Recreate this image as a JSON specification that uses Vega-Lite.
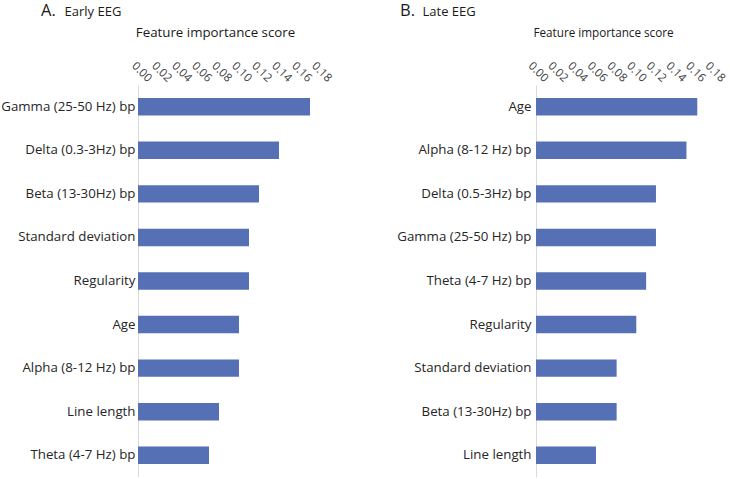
{
  "$schema": "https://vega.github.io/schema/vega-lite/v6.json",
  "padding": {"left": 0, "top": 2, "right": 0, "bottom": 0},
  "autosize": {"type": "pad"},
  "background": "white",
  "config": {
    "view": {"stroke": null},
    "font": "Open Sans",
    "axis": {"labelFont": "Open Sans", "titleFont": "Open Sans"},
    "title": {"font": "Open Sans"}
  },
  "datasets": {
    "early": [
      {"feature": "Gamma (25-50 Hz) bp", "score": 0.172},
      {"feature": "Delta (0.3-3Hz) bp", "score": 0.141},
      {"feature": "Beta (13-30Hz) bp", "score": 0.121},
      {"feature": "Standard deviation", "score": 0.111},
      {"feature": "Regularity", "score": 0.111},
      {"feature": "Age", "score": 0.101},
      {"feature": "Alpha (8-12 Hz) bp", "score": 0.101},
      {"feature": "Line length", "score": 0.081},
      {"feature": "Theta (4-7 Hz) bp", "score": 0.071}
    ],
    "late": [
      {"feature": "Age", "score": 0.164},
      {"feature": "Alpha (8-12 Hz) bp", "score": 0.153},
      {"feature": "Delta (0.5-3Hz) bp", "score": 0.122},
      {"feature": "Gamma (25-50 Hz) bp", "score": 0.122},
      {"feature": "Theta (4-7 Hz) bp", "score": 0.112},
      {"feature": "Regularity", "score": 0.102},
      {"feature": "Standard deviation", "score": 0.082},
      {"feature": "Beta (13-30Hz) bp", "score": 0.082},
      {"feature": "Line length", "score": 0.061}
    ]
  },
  "bounds": "flush",
  "spacing": 218,
  "hconcat": [
    {
      "data": {"name": "early"},
      "width": 180,
      "height": 392,
      "title": {"text": "A.", "anchor": "start", "frame": "group", "dx": -97, "offset": -14, "fontSize": 16.5, "fontWeight": "normal", "color": "#1a1a1a"},
      "mark": {"type": "bar", "color": "#5670B6"},
      "encoding": {
        "y": {
          "field": "feature", "type": "nominal", "sort": null,
          "scale": {"paddingInner": 0.6, "paddingOuter": 0.3},
          "axis": {
            "title": "Early EEG", "titleAngle": 0, "titleX": -74, "titleY": -70,
            "titleAlign": "left", "titleBaseline": "alphabetic", "titleFontSize": 13, "titleFontWeight": "normal", "titleColor": "#1a1a1a",
            "labelFontSize": 13.3, "labelColor": "#262626", "ticks": false, "tickSize": 0, "labelPadding": 3,
            "domainColor": "#d9d9d9", "labelLimit": 300
          }
        },
        "x": {
          "field": "score", "type": "quantitative",
          "scale": {"domain": [0, 0.18], "nice": false},
          "axis": {
            "orient": "top", "values": [0, 0.02, 0.04, 0.06, 0.08, 0.1, 0.12, 0.14, 0.16, 0.18], "format": ".2f",
            "labelAngle": 45, "labelAlign": "center", "labelBaseline": "middle", "labelPadding": 13, "labelOffset": 3,
            "labelFontSize": 11.5, "labelColor": "#404040", "labelFlush": false, "labelOverlap": false,
            "grid": false, "domain": false, "ticks": false, "tickSize": 0,
            "title": "Feature importance score", "titleX": 77, "titleY": -53, "titleFontSize": 13.3, "titleFontWeight": "normal", "titleColor": "#1a1a1a", "titleAlign": "center", "titleBaseline": "middle"
          }
        }
      }
    },
    {
      "data": {"name": "late"},
      "width": 177,
      "height": 392,
      "title": {"text": "B.", "anchor": "start", "frame": "group", "dx": -136, "offset": -14, "fontSize": 16.5, "fontWeight": "normal", "color": "#1a1a1a"},
      "mark": {"type": "bar", "color": "#5670B6"},
      "encoding": {
        "y": {
          "field": "feature", "type": "nominal", "sort": null,
          "scale": {"paddingInner": 0.6, "paddingOuter": 0.3},
          "axis": {
            "title": "Late EEG", "titleAngle": 0, "titleX": -114, "titleY": -70,
            "titleAlign": "left", "titleBaseline": "alphabetic", "titleFontSize": 13, "titleFontWeight": "normal", "titleColor": "#1a1a1a",
            "labelFontSize": 13.3, "labelColor": "#262626", "ticks": false, "tickSize": 0, "labelPadding": 5,
            "domainColor": "#d9d9d9", "labelLimit": 300
          }
        },
        "x": {
          "field": "score", "type": "quantitative",
          "scale": {"domain": [0, 0.18], "nice": false},
          "axis": {
            "orient": "top", "values": [0, 0.02, 0.04, 0.06, 0.08, 0.1, 0.12, 0.14, 0.16, 0.18], "format": ".2f",
            "labelAngle": 45, "labelAlign": "center", "labelBaseline": "middle", "labelPadding": 13, "labelOffset": 1.5,
            "labelFontSize": 11.5, "labelColor": "#404040", "labelFlush": false, "labelOverlap": false,
            "grid": false, "domain": false, "ticks": false, "tickSize": 0,
            "title": "Feature importance score", "titleX": 67, "titleY": -53, "titleFontSize": 11.7, "titleFontWeight": "normal", "titleColor": "#1a1a1a", "titleAlign": "center", "titleBaseline": "middle"
          }
        }
      }
    }
  ]
}
